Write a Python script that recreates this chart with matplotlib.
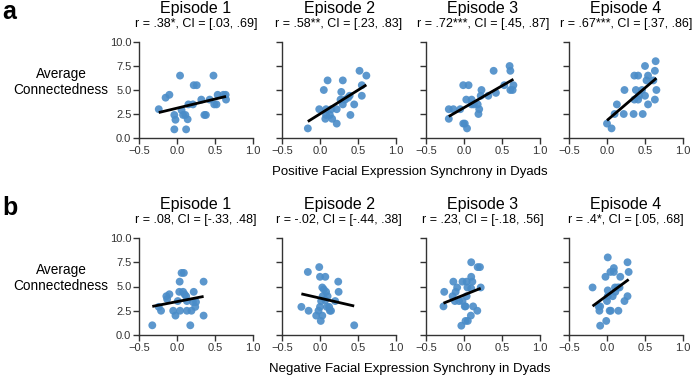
import numpy as np
import matplotlib
matplotlib.use("Agg")
import matplotlib.pyplot as plt

plt.rcParams['font.family'] = ['Liberation Sans', 'DejaVu Sans']

episodes = ["Episode 1", "Episode 2", "Episode 3", "Episode 4"]

stats_pos = ["r = .38*, CI = [.03, .69]", "r = .58**, CI = [.23, .83]",
             "r = .72***, CI = [.45, .87]", "r = .67***, CI = [.37, .86]"]
stats_neg = ["r = .08, CI = [-.33, .48]", "r = -.02, CI = [-.44, .38]",
             "r = .23, CI = [-.18, .56]", "r = .4*, CI = [.05, .68]"]

# Positive synchrony
pos1_x = [-0.24, -0.15, -0.10, 0.04, -0.035, -0.02, -0.035, 0.06, 0.08, 0.11, 0.14, 0.12, 0.15,
          0.21, 0.22, 0.26, 0.32, 0.36, 0.38, 0.43, 0.48, 0.49, 0.52, 0.535, 0.61, 0.64, 0.645]
pos1_y = [3.0, 4.2, 4.5, 6.5, 2.4, 1.9, 0.9, 2.9, 2.4, 2.4, 1.95, 0.9, 3.5,
          3.5, 5.5, 5.5, 4.0, 2.4, 2.4, 4.0, 6.5, 3.5, 3.5, 4.5, 4.5, 4.5, 4.0]

pos2_x = [-0.16, -0.01, 0.05, 0.10, 0.08, 0.08, 0.13, 0.16, 0.07, 0.22, 0.22, 0.28, 0.30, 0.27,
          0.30, 0.33, 0.37, 0.39, 0.45, 0.40, 0.52, 0.61, 0.55, 0.55, 0.15]
pos2_y = [1.0, 3.0, 5.0, 6.0, 3.0, 2.4, 2.4, 2.0, 2.0, 1.5, 3.0, 4.8, 6.0, 4.0,
          3.5, 4.0, 4.2, 4.4, 3.5, 2.4, 7.0, 6.5, 5.5, 4.4, 3.0]

pos3_x = [-0.20, -0.14, -0.20, -0.05, -0.01, 0.06, -0.01, 0.01, 0.04, 0.03, 0.10, 0.13, 0.10, 0.18,
          0.20, 0.19, 0.23, 0.22, 0.32, 0.42, 0.39, 0.53, 0.60, 0.61, 0.61, 0.64, 0.65]
pos3_y = [3.0, 3.0, 2.0, 3.0, 5.5, 5.5, 1.5, 1.5, 1.0, 4.0, 4.0, 3.5, 3.5, 3.5,
          3.0, 2.5, 5.0, 4.4, 4.4, 4.7, 7.0, 5.5, 7.5, 7.0, 5.0, 5.0, 5.5]

pos4_x = [0.0, 0.06, 0.10, 0.13, 0.23, 0.22, 0.36, 0.41, 0.35, 0.36, 0.38, 0.41, 0.42, 0.46,
          0.47, 0.50, 0.52, 0.54, 0.50, 0.54, 0.61, 0.63, 0.64, 0.65, 0.63]
pos4_y = [1.5, 1.0, 2.5, 3.5, 5.0, 2.5, 6.5, 6.5, 2.5, 4.0, 5.0, 4.0, 4.4, 5.0,
          2.5, 7.5, 6.0, 6.5, 4.4, 3.5, 6.0, 7.0, 8.0, 5.0, 4.0]

# Negative synchrony
neg1_x = [-0.325, -0.21, -0.24, -0.14, -0.10, -0.13, -0.05, -0.02, 0.04, 0.035, 0.03, 0.06, 0.09,
          0.08, 0.10, 0.12, 0.13, 0.13, 0.175, 0.19, 0.22, 0.21, 0.24, 0.25, 0.35, 0.35, 0.01]
neg1_y = [1.0, 2.5, 2.9, 4.0, 4.2, 3.7, 2.5, 2.0, 2.5, 5.5, 4.45, 6.4, 6.4,
          4.45, 4.2, 4.0, 3.5, 2.5, 1.0, 2.5, 4.45, 3.4, 2.9, 3.4, 5.5, 2.0, 3.5]

neg2_x = [-0.245, -0.16, -0.15, -0.05, -0.01, 0.0, 0.07, 0.03, 0.05, 0.08, 0.10, 0.035, 0.0,
          -0.02, 0.03, 0.01, 0.07, 0.09, 0.13, 0.145, 0.12, 0.24, 0.245, 0.20, 0.45, 0.015]
neg2_y = [2.9, 6.5, 2.5, 2.0, 7.0, 6.0, 6.0, 4.9, 4.7, 4.45, 4.0, 4.0, 2.9,
          2.5, 2.0, 1.45, 3.6, 2.9, 2.5, 2.5, 2.9, 5.5, 4.45, 3.5, 1.0, 3.5]

neg3_x = [-0.27, -0.26, -0.14, -0.09, -0.11, -0.15, -0.12, -0.065, -0.02, 0.035, 0.045, 0.035, 0.01,
          0.02, -0.02, 0.095, 0.11, 0.095, 0.095, 0.12, 0.18, 0.21, 0.22, 0.175, 0.09, 0.05, 0.02, -0.035]
neg3_y = [2.95, 4.45, 5.5, 4.9, 4.45, 4.0, 3.5, 3.5, 5.5, 5.5, 4.9, 4.0, 2.95,
          2.95, 3.5, 6.0, 5.5, 7.5, 4.8, 2.95, 7.0, 7.0, 4.9, 2.5, 2.0, 1.45, 1.45, 0.96]

neg4_x = [-0.19, -0.11, -0.09, -0.10, -0.09, -0.01, 0.01, -0.02, 0.01, 0.0, 0.01, 0.035, 0.05, 0.045,
          0.09, 0.09, 0.075, 0.105, 0.11, 0.14, 0.15, 0.175, 0.165, 0.23, 0.27, 0.285, 0.27]
neg4_y = [4.9, 2.95, 2.95, 2.5, 0.96, 1.45, 8.0, 6.0, 4.6, 3.5, 4.0, 2.5, 2.5, 6.5,
          6.5, 6.9, 4.0, 4.9, 4.45, 4.9, 2.5, 6.0, 4.9, 3.5, 7.5, 6.5, 4.0]

rows = [
    ([(pos1_x, pos1_y), (pos2_x, pos2_y), (pos3_x, pos3_y), (pos4_x, pos4_y)], stats_pos,
     "Positive Facial Expression Synchrony in Dyads", "a"),
    ([(neg1_x, neg1_y), (neg2_x, neg2_y), (neg3_x, neg3_y), (neg4_x, neg4_y)], stats_neg,
     "Negative Facial Expression Synchrony in Dyads", "b"),
]

W, H = 700, 379
fig = plt.figure(figsize=(7.0, 3.79), dpi=100)

lefts = [139, 282, 426, 569]
axw = 114
row_geom = [(42, 138), (238, 335)]   # (top px, bottom px)
dot_color = '#4a8cc8'

for r, (data, stats, xlabel, letter) in enumerate(rows):
    top, bot = row_geom[r]
    for i, (xs, ys) in enumerate(data):
        ax = fig.add_axes([lefts[i] / W, 1 - bot / H, axw / W, (bot - top) / H])
        xs = np.array(xs); ys = np.array(ys)
        ax.scatter(xs, ys, s=32, color=dot_color, alpha=0.9, edgecolors='none', zorder=2, clip_on=False)
        m, b = np.polyfit(xs, ys, 1)
        xx = np.array([xs.min(), xs.max()])
        ax.plot(xx, m * xx + b, color='black', lw=2.0, zorder=3, solid_capstyle='butt')
        ax.set_xlim(-0.5, 1.0)
        ax.set_ylim(0, 10)
        ax.set_xticks([-0.5, 0.0, 0.5, 1.0])
        ax.set_xticklabels(['\u22120.5', '0.0', '0.5', '1.0'])
        ax.set_yticks([0, 2.5, 5, 7.5, 10])
        if i == 0:
            ax.set_yticklabels(['0.0', '2.5', '5.0', '7.5', '10.0'])
        else:
            ax.set_yticklabels([])
        for s in ['top', 'right']:
            ax.spines[s].set_visible(False)
        for s in ['left', 'bottom']:
            ax.spines[s].set_color('#333333')
            ax.spines[s].set_linewidth(1.0)
        ax.tick_params(direction='out', length=4, width=1.0, colors='#333333',
                       labelsize=8, labelcolor='#333333', pad=1.5)
        cx = (lefts[i] + axw / 2) / W
        fig.text(cx, 1 - (top - 33) / H, episodes[i], ha='center', va='center', fontsize=11.5)
        fig.text(cx, 1 - (top - 18) / H, stats[i], ha='center', va='center', fontsize=9)
    fig.text(410 / W, 1 - (bot + 34) / H, xlabel, ha='center', va='center', fontsize=9.5)
    fig.text(61 / W, 1 - (top + 40) / H, "Average\nConnectedness", ha='center', va='center',
             fontsize=9.8, linespacing=1.25)
    fig.text(2 / W, 1 - (top - 30) / H, letter, ha='left', va='center', fontsize=18, fontweight='bold')

fig.savefig("out.png", dpi=100)
